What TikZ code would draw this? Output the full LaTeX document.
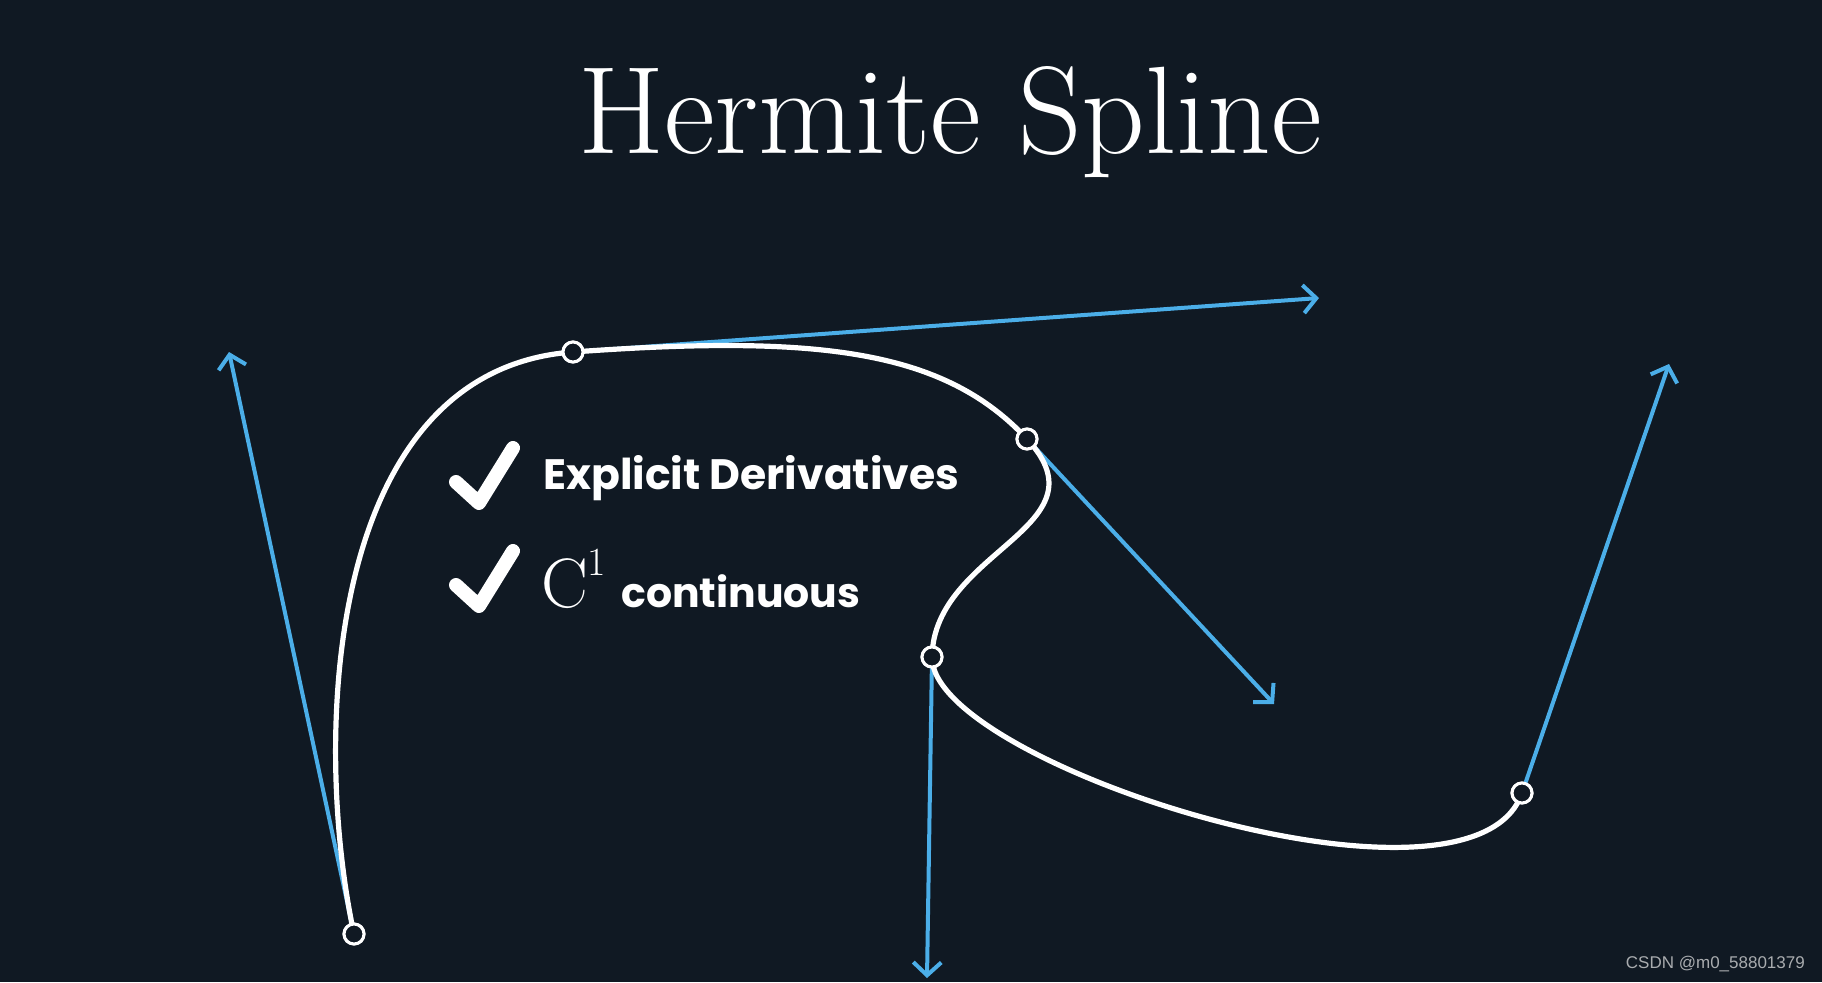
\documentclass[tikz,border=0pt]{standalone}
\usepackage{fontspec}
\usetikzlibrary{arrows.meta,calc}
\newfontfamily\popfont{Poppins}
\newfontfamily\wmfont{Liberation Sans}
\definecolor{bgc}{HTML}{101923}
\definecolor{tanblue}{HTML}{4BAEE8}
\definecolor{wmgray}{HTML}{A9ACAF}
\tikzset{
  tangent/.style={draw=tanblue, line width=4pt, -{Straight Barb[length=13pt,width=28pt]}},
  curveline/.style={draw=white, line width=5.2pt},
  knot/.style={circle, draw=white, fill=bgc, line width=3pt, minimum size=20pt, inner sep=0pt},
  checkmark/.style={draw=white, line width=14pt, line cap=round, line join=round},
  bullet/.style={text=white, inner sep=0pt, font=\popfont\bfseries\fontsize{42.5}{50}\selectfont},
}
\begin{document}
\begin{tikzpicture}[x=1pt,y=-1pt]
\useasboundingbox (0,0) rectangle (1822,982);
\fill[bgc] (0,0) rectangle (1822,982);
% title
\node[anchor=base, text=white, inner sep=0pt, font=\fontsize{124.5}{140}\selectfont] (title) at (950,153) {Hermite Spline};
% knots and tangent tips
\node[knot] (p0) at (354,934) {};
\node[knot] (p1) at (573,352) {};
\node[knot] (p2) at (1027,439) {};
\node[knot] (p3) at (932,657) {};
\node[knot] (p4) at (1522,793) {};
\coordinate (t0) at (229,352);
\coordinate (t1) at (1319,298);
\coordinate (t2) at (1274,704);
\coordinate (t3) at (927,978);
\coordinate (t4) at (1669,364);
% tangents
\draw[tangent] (p0.center) -- (t0);
\draw[tangent] (p1.center) -- (t1);
\draw[tangent] (p2.center) -- (t2);
\draw[tangent] (p3.center) -- (t3);
\draw[tangent] (p4.center) -- (t4);
% spline
\draw[curveline] (p0.center)
  .. controls ($(p0)!1/3!(t0)$) and ($(p1)!-1/3!(t1)$) .. (p1.center)
  .. controls ($(p1)!1/3!(t1)$) and ($(p2)!-1/3!(t2)$) .. (p2.center)
  .. controls ($(p2)!1/3!(t2)$) and ($(p3)!-1/3!(t3)$) .. (p3.center)
  .. controls ($(p3)!1/3!(t3)$) and ($(p4)!-1/3!(t4)$) .. (p4.center);
% redraw knots on top
\foreach \k/\x/\y in {a/354/934, b/573/352, c/1027/439, d/932/657, e/1522/793}
  \node[knot] (k\k) at (\x,\y) {};
% checklist
\draw[checkmark] (456,482) -- (479,503) -- (513,448);
\draw[checkmark] (456,585) -- (479,606) -- (513,551);
\node[bullet, anchor=base west] (l1) at (543,489) {Explicit Derivatives};
\node[anchor=base west, text=white, inner sep=0pt, font=\fontsize{70}{76}\selectfont] (c1) at (541,607) {C\raisebox{0.45em}{\fontsize{40}{42}\selectfont 1}};
\node[bullet, anchor=base west, font=\popfont\bfseries\fontsize{41}{48}\selectfont] (l2) at (621,607) {continuous};
% watermark
\node[anchor=base east, text=wmgray, inner sep=0pt, font=\wmfont\fontsize{17}{20}\selectfont] (wm) at (1805,968) {CSDN @m0\_58801379};
\end{tikzpicture}
\end{document}
